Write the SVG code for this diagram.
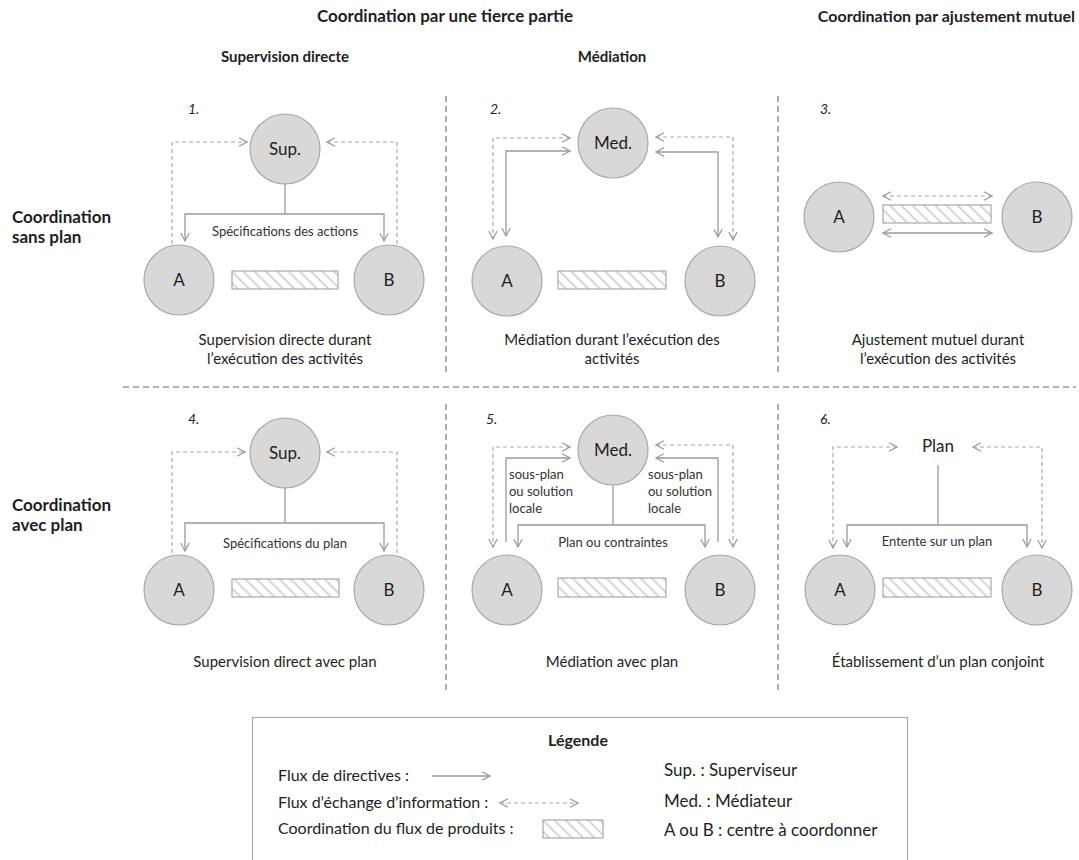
<svg xmlns="http://www.w3.org/2000/svg" width="1079" height="860" viewBox="0 0 1079 860">
  <defs>
    <style>
      text { font-family: Lato, "Liberation Sans", sans-serif; fill: #1e1e1e; }
      .h1 { font-size: 17px; font-weight: 700; }
      .h2 { font-size: 15px; font-weight: 700; }
      .row { font-size: 17px; font-weight: 700; }
      .num { font-size: 14px; font-style: italic; }
      .cap { font-size: 15px; }
      .lbl { font-size: 13px; fill: #333; }
      .node-txt { font-size: 17px; }
      .leg { font-size: 16px; }
      .leg2 { font-size: 17px; }
      .node { fill: #d8d8d8; stroke: #a8a8a8; stroke-width: 1.2; }
      .flow { fill: url(#hatch); stroke: #a8a8a8; stroke-width: 1.2; }
      .solid { fill: none; stroke: #9a9a9a; stroke-width: 1.3; }
      .dash { fill: none; stroke: #a8a8a8; stroke-width: 1.2; stroke-dasharray: 4 3; }
      .sep { fill: none; stroke: #9a9a9a; stroke-width: 1.6; stroke-dasharray: 6 4; }
    </style>
    <pattern id="hatch" patternUnits="userSpaceOnUse" width="8" height="8" patternTransform="rotate(45)">
      <rect width="8" height="8" fill="#ffffff"/>
      <line x1="0" y1="4" x2="8" y2="4" stroke="#b0b0b0" stroke-width="1"/>
    </pattern>
    <marker id="ah" viewBox="0 0 10 10" refX="9" refY="5" markerWidth="10" markerHeight="10" markerUnits="userSpaceOnUse" orient="auto-start-reverse">
      <path d="M1,0.8 L9,5 L1,9.2" fill="none" stroke="#9a9a9a" stroke-width="1.2" stroke-dasharray="none"/>
    </marker>
  </defs>

  <rect width="1079" height="860" fill="#ffffff"/>

  <!-- column and row headings -->
  <g id="headings">
    <text class="h1" x="445" y="22" text-anchor="middle">Coordination par une tierce partie</text>
    <text class="h1" x="1075" y="22" text-anchor="end" style="font-size:16px">Coordination par ajustement mutuel</text>
    <text class="h2" x="285" y="62" text-anchor="middle">Supervision directe</text>
    <text class="h2" x="612" y="62" text-anchor="middle">Médiation</text>
    <text class="row" x="12" y="223">Coordination</text>
    <text class="row" x="12" y="243">sans plan</text>
    <text class="row" x="12" y="511">Coordination</text>
    <text class="row" x="12" y="531">avec plan</text>
  </g>

  <!-- grid separators -->
  <g id="separators">
    <path class="sep" d="M446,96 V372 M446,404 V690 M778,96 V372 M778,404 V690 M123,387 H1076"/>
  </g>

  <!-- panel 1: supervision directe sans plan -->
  <g id="panel1">
    <text class="num" x="188" y="114">1.</text>
    <g id="p1-sup"><circle class="node" cx="285" cy="149" r="35"/><text class="node-txt" x="285" y="155" text-anchor="middle">Sup.</text></g>
    <g id="p1-a"><circle class="node" cx="179" cy="280" r="35"/><text class="node-txt" x="179" y="286" text-anchor="middle">A</text></g>
    <g id="p1-b"><circle class="node" cx="389" cy="280" r="35"/><text class="node-txt" x="389" y="286" text-anchor="middle">B</text></g>
    <rect class="flow" x="232" y="271" width="106" height="18"/>
    <text class="lbl" x="285" y="236" text-anchor="middle">Spécifications des actions</text>
    <text class="cap" x="285" y="345" text-anchor="middle">Supervision directe durant</text>
    <text class="cap" x="285" y="364" text-anchor="middle">l’exécution des activités</text>
  </g>

  <!-- panel 2: médiation sans plan -->
  <g id="panel2">
    <text class="num" x="490" y="114">2.</text>
    <g id="p2-med"><circle class="node" cx="613" cy="143" r="35"/><text class="node-txt" x="613" y="149" text-anchor="middle">Med.</text></g>
    <g id="p2-a"><circle class="node" cx="507" cy="281" r="35"/><text class="node-txt" x="507" y="287" text-anchor="middle">A</text></g>
    <g id="p2-b"><circle class="node" cx="720" cy="281" r="35"/><text class="node-txt" x="720" y="287" text-anchor="middle">B</text></g>
    <rect class="flow" x="558" y="271" width="108" height="18"/>
    <text class="cap" x="612" y="345" text-anchor="middle">Médiation durant l’exécution des</text>
    <text class="cap" x="612" y="364" text-anchor="middle">activités</text>
  </g>

  <!-- panel 3: ajustement mutuel sans plan -->
  <g id="panel3">
    <text class="num" x="820" y="114">3.</text>
    <g id="p3-a"><circle class="node" cx="839" cy="217" r="35"/><text class="node-txt" x="839" y="223" text-anchor="middle">A</text></g>
    <g id="p3-b"><circle class="node" cx="1037" cy="217" r="35"/><text class="node-txt" x="1037" y="223" text-anchor="middle">B</text></g>
    <rect class="flow" x="883" y="205" width="108" height="18"/>
    <text class="cap" x="938" y="345" text-anchor="middle">Ajustement mutuel durant</text>
    <text class="cap" x="938" y="364" text-anchor="middle">l’exécution des activités</text>
  </g>

  <!-- panel 4: supervision directe avec plan -->
  <g id="panel4">
    <text class="num" x="188" y="424">4.</text>
    <g id="p4-sup"><circle class="node" cx="285" cy="453" r="35"/><text class="node-txt" x="285" y="459" text-anchor="middle">Sup.</text></g>
    <g id="p4-a"><circle class="node" cx="179" cy="590" r="35"/><text class="node-txt" x="179" y="596" text-anchor="middle">A</text></g>
    <g id="p4-b"><circle class="node" cx="389" cy="590" r="35"/><text class="node-txt" x="389" y="596" text-anchor="middle">B</text></g>
    <rect class="flow" x="232" y="579" width="107" height="18"/>
    <text class="lbl" x="285" y="548" text-anchor="middle">Spécifications du plan</text>
    <text class="cap" x="285" y="667" text-anchor="middle">Supervision direct avec plan</text>
  </g>

  <!-- panel 5: médiation avec plan -->
  <g id="panel5">
    <text class="num" x="486" y="424">5.</text>
    <g id="p5-med"><circle class="node" cx="613" cy="450" r="35"/><text class="node-txt" x="613" y="456" text-anchor="middle">Med.</text></g>
    <g id="p5-a"><circle class="node" cx="507" cy="590" r="35"/><text class="node-txt" x="507" y="596" text-anchor="middle">A</text></g>
    <g id="p5-b"><circle class="node" cx="720" cy="590" r="35"/><text class="node-txt" x="720" y="596" text-anchor="middle">B</text></g>
    <rect class="flow" x="558" y="578" width="108" height="19"/>
    <text class="lbl" x="509" y="479">sous-plan</text>
    <text class="lbl" x="509" y="496">ou solution</text>
    <text class="lbl" x="509" y="513">locale</text>
    <text class="lbl" x="648" y="479">sous-plan</text>
    <text class="lbl" x="648" y="496">ou solution</text>
    <text class="lbl" x="648" y="513">locale</text>
    <text class="lbl" x="613" y="547" text-anchor="middle">Plan ou contraintes</text>
    <text class="cap" x="612" y="667" text-anchor="middle">Médiation avec plan</text>
  </g>

  <!-- panel 6: plan conjoint -->
  <g id="panel6">
    <text class="num" x="820" y="424">6.</text>
    <g id="p6-plan"><text class="node-txt" x="938" y="452" text-anchor="middle">Plan</text></g>
    <g id="p6-a"><circle class="node" cx="840" cy="590" r="35"/><text class="node-txt" x="840" y="596" text-anchor="middle">A</text></g>
    <g id="p6-b"><circle class="node" cx="1037" cy="590" r="35"/><text class="node-txt" x="1037" y="596" text-anchor="middle">B</text></g>
    <rect class="flow" x="883" y="578" width="108" height="19"/>
    <text class="lbl" x="937" y="546" text-anchor="middle">Entente sur un plan</text>
    <text class="cap" x="938" y="667" text-anchor="middle">Établissement d’un plan conjoint</text>
  </g>

  <!-- connectors -->
  <g id="connectors">
    <!-- panel 1 -->
    <path class="solid" d="M285,184 V214"/>
    <path class="solid" d="M285,214 H185 V241" marker-end="url(#ah)"/>
    <path class="solid" d="M285,214 H384 V241" marker-end="url(#ah)"/>
    <path class="dash" d="M172,244 V142 H247" marker-end="url(#ah)"/>
    <path class="dash" d="M397,244 V142 H327" marker-end="url(#ah)"/>
    <!-- panel 2 -->
    <path class="dash" d="M570,138 H493 V239" marker-start="url(#ah)" marker-end="url(#ah)"/>
    <path class="solid" d="M570,151 H506 V236" marker-start="url(#ah)" marker-end="url(#ah)"/>
    <path class="solid" d="M656,152 H718 V237" marker-start="url(#ah)" marker-end="url(#ah)"/>
    <path class="dash" d="M656,137 H733 V240" marker-start="url(#ah)" marker-end="url(#ah)"/>
    <!-- panel 3 -->
    <path class="dash" d="M883,196 H992" marker-start="url(#ah)" marker-end="url(#ah)"/>
    <path class="solid" d="M883,233 H992" marker-start="url(#ah)" marker-end="url(#ah)"/>
    <!-- panel 4 -->
    <path class="solid" d="M285,488 V523"/>
    <path class="solid" d="M285,523 H185 V551" marker-end="url(#ah)"/>
    <path class="solid" d="M285,523 H384 V551" marker-end="url(#ah)"/>
    <path class="dash" d="M172,553 V452 H245" marker-end="url(#ah)"/>
    <path class="dash" d="M397,553 V452 H327" marker-end="url(#ah)"/>
    <!-- panel 5 -->
    <path class="dash" d="M570,447 H493 V547" marker-start="url(#ah)" marker-end="url(#ah)"/>
    <path class="solid" d="M506,542 V458 H570" marker-end="url(#ah)"/>
    <path class="solid" d="M613,485 V525"/>
    <path class="solid" d="M613,525 H518 V547" marker-end="url(#ah)"/>
    <path class="solid" d="M613,525 H705 V547" marker-end="url(#ah)"/>
    <path class="solid" d="M718,542 V458 H656" marker-end="url(#ah)"/>
    <path class="dash" d="M656,445 H733 V547" marker-start="url(#ah)" marker-end="url(#ah)"/>
    <!-- panel 6 -->
    <path class="solid" d="M938,465 V525"/>
    <path class="solid" d="M938,525 H847 V547" marker-end="url(#ah)"/>
    <path class="solid" d="M938,525 H1027 V547" marker-end="url(#ah)"/>
    <path class="dash" d="M897,447 H833 V548" marker-start="url(#ah)" marker-end="url(#ah)"/>
    <path class="dash" d="M973,447 H1042 V548" marker-start="url(#ah)" marker-end="url(#ah)"/>
  </g>

  <!-- legend -->
  <g id="legend">
    <rect x="252.5" y="717.5" width="655" height="170" fill="none" stroke="#aaaaaa" stroke-width="1.2"/>
    <text class="h2" x="578" y="746" text-anchor="middle" style="font-size:16px">Légende</text>
    <text class="leg" x="278" y="781">Flux de directives :</text>
    <path class="solid" d="M432,776 H490" marker-end="url(#ah)"/>
    <text class="leg" x="278" y="808">Flux d’échange d’information :</text>
    <path class="dash" d="M500,803 H578" marker-start="url(#ah)" marker-end="url(#ah)"/>
    <text class="leg" x="278" y="834">Coordination du flux de produits :</text>
    <rect class="flow" x="543" y="820" width="60" height="18"/>
    <text class="leg2" x="664" y="776">Sup. : Superviseur</text>
    <text class="leg2" x="664" y="807">Med. : Médiateur</text>
    <text class="leg2" x="664" y="836">A ou B : centre à coordonner</text>
  </g>
</svg>
